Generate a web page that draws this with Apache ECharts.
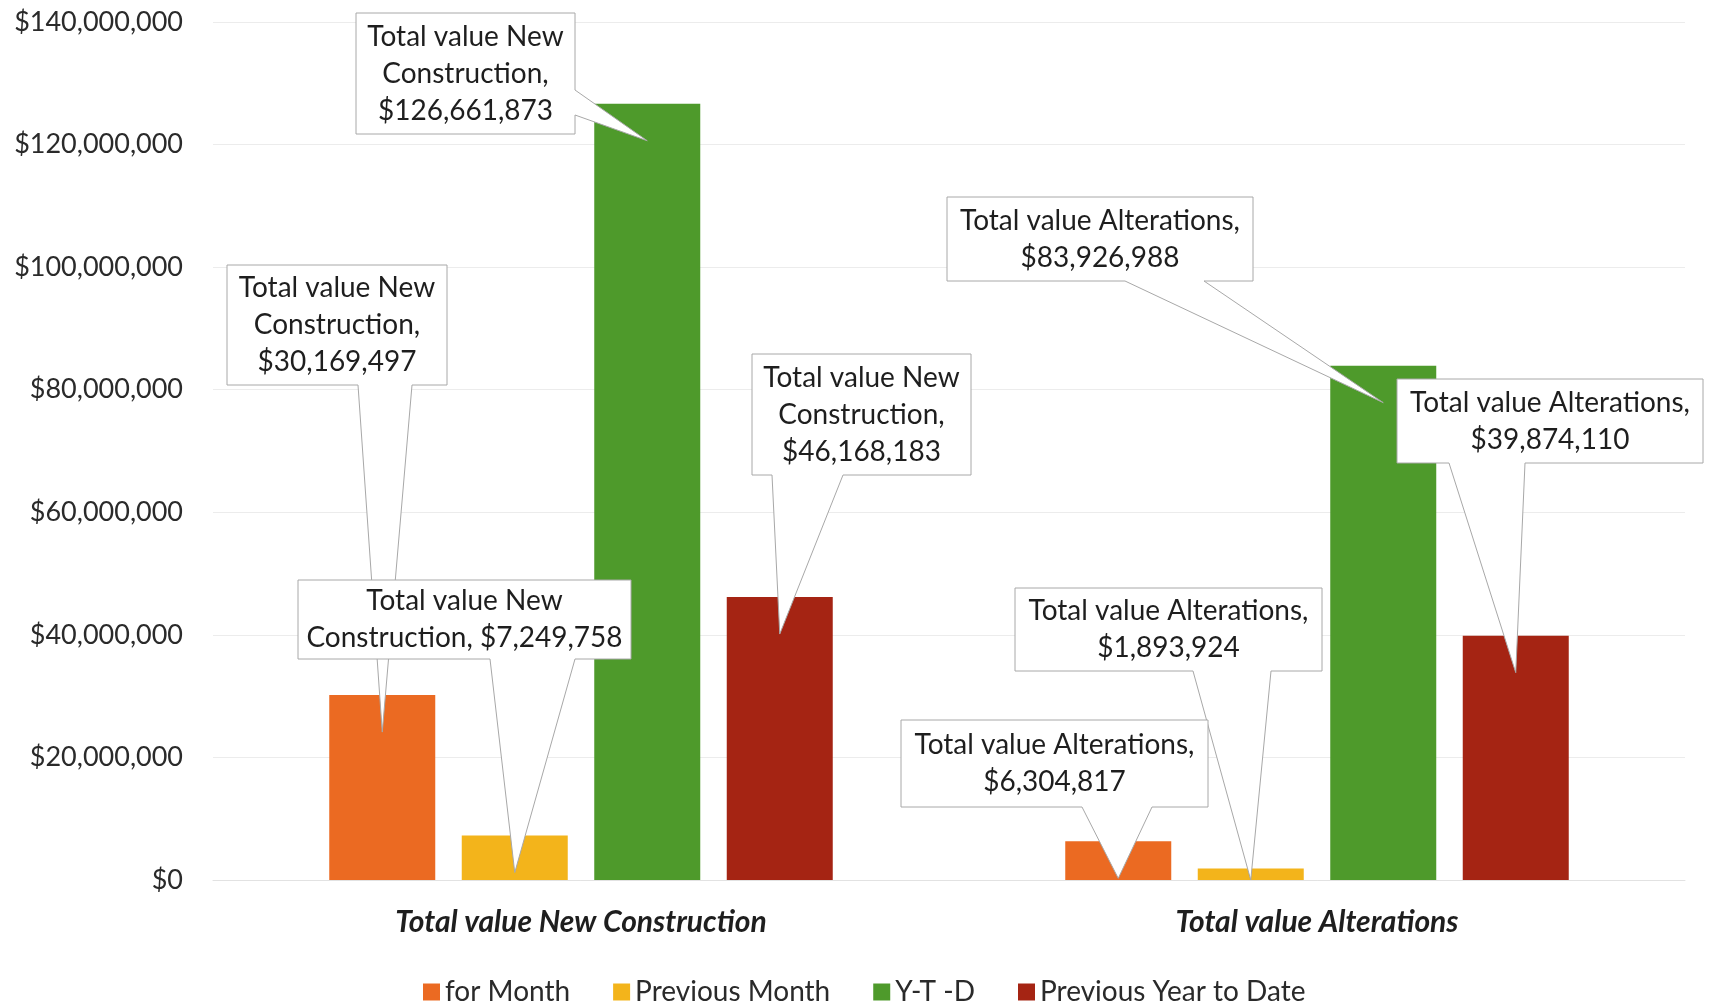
<!DOCTYPE html>
<html>
<head>
<meta charset="utf-8">
<script src="https://cdn.jsdelivr.net/npm/echarts@6/dist/echarts.min.js"></script>
<style>
html,body{margin:0;padding:0;background:#fff;}
#chart{width:1712px;height:1005px;}
</style>
</head>
<body>
<div id="chart"></div>
<script>
// ---- data ----
const categories = ['Total value New Construction', 'Total value Alterations'];
const seriesNames = ['for Month', 'Previous Month', 'Y-T -D', 'Previous Year to Date'];
const forMonth = [30169497, 6304817];
const previousMonth = [7249758, 1893924];
const yearToDate = [126661873, 83926988];
const previousYearToDate = [46168183, 39874110];
const yMin = 0, yMax = 140000000, yInterval = 20000000;

// ---- styling / layout (pixels) ----
const colors = ['#EB6A22', '#F3B41B', '#4E9A2B', '#A52413'];
const FONT = 'Lato, "Noto Sans", sans-serif';
// callout boxes: series index, category index, box [L,T,R,B], wedge side & base, line mode
const callouts = [
  {s:0, c:0, box:[227,265,447,385], side:'bottom', base:[358,412], mode:3},
  {s:2, c:0, box:[356,13,575,134], side:'right', base:[90,115], mode:3},
  {s:3, c:0, box:[752,354,971,475], side:'bottom', base:[772,843], mode:3},
  {s:1, c:0, box:[298,580,631,659], side:'bottom', base:[490,575], mode:2},
  {s:2, c:1, box:[947,197,1253,281], side:'bottom', base:[1125,1204], mode:2},
  {s:3, c:1, box:[1397,379,1703,463], side:'bottom', base:[1449,1525], mode:2},
  {s:1, c:1, box:[1015,588,1322,671], side:'bottom', base:[1193,1271], mode:2},
  {s:0, c:1, box:[901,720,1208,807], side:'bottom', base:[1082,1152], mode:2}
];
const TIP_DEPTH = 37;

const seriesData = [forMonth, previousMonth, yearToDate, previousYearToDate];
const money = v => '$' + Math.round(v).toLocaleString('en-US');

const chart = echarts.init(document.getElementById('chart'));
const option = {
  animation: false,
  backgroundColor: '#fff',
  color: colors,
  textStyle: {fontFamily: FONT},
  grid: {left: 213, right: 27, top: 22, bottom: 125},
  legend: {
    top: 973, left: 418,
    itemWidth: 17, itemHeight: 17, itemGap: 43, icon: 'rect',
    textStyle: {fontSize: 28, color: '#2a2a2a', fontFamily: FONT},
    data: seriesNames
  },
  xAxis: {
    type: 'category', data: categories,
    axisLine: {show: true, lineStyle: {color: '#e2e2e2', width: 1}},
    axisTick: {show: false},
    axisLabel: {fontSize: 30, fontWeight: 'bold', fontStyle: 'italic', color: '#1e1e1e', margin: 27, fontFamily: FONT}
  },
  yAxis: {
    type: 'value', min: yMin, max: yMax, interval: yInterval,
    axisLine: {show: false}, axisTick: {show: false},
    splitLine: {lineStyle: {color: '#ececec', width: 1}},
    axisLabel: {fontSize: 27, color: '#2a2a2a', margin: 30, fontFamily: FONT, formatter: v => money(v)}
  },
  series: seriesNames.map((n, i) => ({
    name: n, type: 'bar', data: seriesData[i],
    barWidth: 106, barGap: '25%',
    itemStyle: {color: colors[i]}
  }))
};
chart.setOption(option);

function calloutText(cb) {
  const cat = categories[cb.c];
  const val = money(seriesData[cb.s][cb.c]);
  if (cb.mode === 3) {
    const parts = cat.split(' ');
    const last = parts.pop();
    return parts.join(' ') + '\n' + last + ',\n' + val;
  }
  if (cb.c === 0) {
    const parts = cat.split(' ');
    const last = parts.pop();
    return parts.join(' ') + '\n' + last + ', ' + val;
  }
  return cat + ',\n' + val;
}

const graphics = [];
callouts.forEach((cb, k) => {
  const data = chart.getModel().getSeriesByIndex(cb.s).getData();
  const lay = data.getItemLayout(cb.c);
  const cx = lay.x + lay.width / 2;
  const top = Math.min(lay.y, lay.y + lay.height);
  const bottom = Math.max(lay.y, lay.y + lay.height);
  const tip = [cx, Math.min(top + TIP_DEPTH, bottom)];
  const [L, T, R, B] = cb.box;
  let pts;
  if (cb.side === 'bottom') {
    pts = [[L,T],[R,T],[R,B],[cb.base[1],B],tip,[cb.base[0],B],[L,B]];
  } else {
    pts = [[L,T],[R,T],[R,cb.base[0]],tip,[R,cb.base[1]],[R,B],[L,B]];
  }
  graphics.push({
    type: 'polygon', z: 100 + k * 2,
    shape: {points: pts},
    style: {fill: '#fff', stroke: '#a8a8a8', lineWidth: 1}
  });
  graphics.push({
    type: 'text', z: 101 + k * 2,
    x: (L + R) / 2, y: (T + B) / 2,
    style: {
      text: calloutText(cb), fill: '#1e1e1e', font: '28px ' + FONT,
      lineHeight: 37, align: 'center', verticalAlign: 'middle'
    }
  });
});
chart.setOption({graphic: {elements: graphics}});
</script>
</body>
</html>
